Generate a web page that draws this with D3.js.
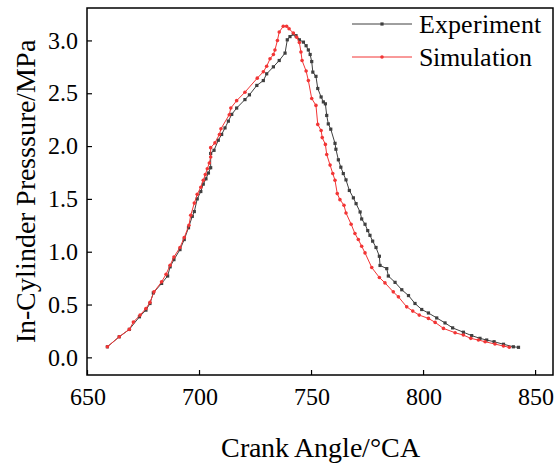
<!DOCTYPE html>
<html>
<head>
<meta charset="utf-8">
<script src="https://cdn.jsdelivr.net/npm/d3@7"></script>
<style>
  @font-face {
    font-family: "ChartSerif";
    src: local("Liberation Serif"), local("LiberationSerif"), local("LiberationSerif-Regular"), local("Times New Roman");
  }
</style>
</head>
<body style="margin:0; background:#fff">
<svg width="556" height="463"></svg>
<script>
// crank angle (deg CA) and pressure (MPa)
var expAngle = [659.1, 664.4, 668.9, 673.4, 676.3, 678.1, 679.6, 683.3, 686.0, 687.1, 688.8, 691.5, 693.4, 695.3, 697.0, 697.9,
  699.2, 700.8, 701.9, 703.1, 704.2, 705.2, 705.2, 706.7, 708.6, 710.1, 711.6, 713.1, 714.6, 716.8, 720.5, 722.5, 725.8,
  728.7, 730.2, 733.2, 735.8, 738.4, 739.4, 740.6, 742.1, 743.3, 744.8, 746.6, 747.8, 748.8, 749.6, 750.3, 750.8, 752.2,
  753.0, 754.5, 755.5, 756.4, 757.0, 757.7, 758.8, 760.7, 761.1, 762.2, 763.3, 764.4, 765.6, 767.1, 768.9, 770.1, 771.9,
  772.6, 774.1, 775.3, 776.3, 777.5, 779.0, 780.5, 780.8, 783.8, 784.5, 787.5, 790.5, 793.5, 796.4, 799.4, 802.4, 806.1,
  809.8, 813.2, 818.0, 821.7, 825.4, 828.4, 831.7, 835.9, 840.3, 842.6];
var expPressure = [0.10, 0.195, 0.265, 0.384, 0.447, 0.51, 0.61, 0.70, 0.77, 0.857, 0.925, 1.02, 1.115, 1.227, 1.335, 1.38,
  1.50, 1.57, 1.64, 1.69, 1.745, 1.795, 1.93, 1.96, 2.055, 2.11, 2.172, 2.236, 2.30, 2.36, 2.44, 2.485, 2.574,
  2.62, 2.684, 2.75, 2.81, 2.88, 3.006, 3.036, 3.06, 3.045, 3.006, 2.984, 2.95, 2.91, 2.867, 2.80, 2.70, 2.66,
  2.545, 2.465, 2.418, 2.40, 2.29, 2.21, 2.16, 2.026, 1.97, 1.87, 1.80, 1.74, 1.68, 1.58, 1.51, 1.455, 1.376,
  1.31, 1.26, 1.20, 1.155, 1.10, 1.04, 0.957, 0.87, 0.84, 0.77, 0.71, 0.64, 0.585, 0.51, 0.453, 0.42, 0.373,
  0.326, 0.279, 0.238, 0.206, 0.18, 0.164, 0.148, 0.124, 0.10, 0.095];

var simAngle = [659.1, 664.4, 668.9, 670.7, 673.7, 676.3, 678.1, 679.9, 683.3, 685.3, 687.1, 688.8, 691.5, 693.4, 695.5, 696.3,
  697.9, 699.2, 700.8, 701.9, 702.8, 703.7, 704.6, 705.2, 705.2, 707.1, 709.1, 709.8, 713.5, 714.2, 716.8, 720.5, 726.0,
  728.7, 730.2, 731.7, 733.2, 733.9, 735.0, 735.8, 737.6, 739.1, 740.2, 742.1, 743.6, 744.8, 745.5, 746.0, 747.8, 748.8,
  750.3, 752.2, 753.0, 754.5, 755.0, 756.4, 757.0, 758.5, 759.7, 760.7, 761.7, 762.9, 764.7, 765.6, 767.9, 769.6, 771.1,
  772.6, 774.1, 777.1, 780.5, 783.0, 786.7, 789.0, 792.7, 795.4, 798.3, 802.4, 805.4, 809.1, 814.3, 818.0, 821.3, 824.7,
  827.7, 832.1, 835.9, 838.5];
var simPressure = [0.10, 0.195, 0.265, 0.334, 0.40, 0.463, 0.52, 0.62, 0.715, 0.787, 0.872, 0.95, 1.04, 1.134, 1.25, 1.345,
  1.46, 1.543, 1.61, 1.676, 1.73, 1.786, 1.84, 1.896, 1.985, 2.03, 2.11, 2.164, 2.297, 2.36, 2.43, 2.51, 2.643,
  2.703, 2.756, 2.826, 2.867, 2.91, 3.0, 3.08, 3.134, 3.134, 3.11, 3.07, 3.03, 2.98, 2.89, 2.81, 2.71, 2.62,
  2.45, 2.385, 2.205, 2.148, 2.08, 2.016, 1.92, 1.82, 1.74, 1.676, 1.55, 1.493, 1.44, 1.367, 1.26, 1.172, 1.115,
  1.052, 0.989, 0.85, 0.756, 0.705, 0.62, 0.573, 0.478, 0.438, 0.40, 0.369, 0.331, 0.274, 0.233, 0.211, 0.18, 0.164,
  0.148, 0.126, 0.107, 0.095];

var xTicks = [650, 700, 750, 800, 850];
var yTicks = [0, 0.5, 1.0, 1.5, 2.0, 2.5, 3.0];

var FONT = "ChartSerif, 'Liberation Serif', 'Times New Roman', Tinos, serif";

var svg = d3.select("svg").attr("font-family", FONT);
var mLeft = 87, mTop = 8, mRight = 553, mBottom = 375;

var x = d3.scaleLinear().domain([650, 858]).range([mLeft, mRight]);
var y = d3.scaleLinear().domain([-0.167, 3.307]).range([mBottom, mTop]);

var expColor = "#3f3f3f", simColor = "#f23535";

function toPoints(xs, ys) {
  return xs.map(function (v, i) { return [v, ys[i]]; });
}
var expData = toPoints(expAngle, expPressure);
var simData = toPoints(simAngle, simPressure);

var line = d3.line()
  .x(function (d) { return x(d[0]); })
  .y(function (d) { return y(d[1]); });

function styleAxis(g) {
  g.select(".domain").remove();
  g.attr("font-family", FONT);
  g.selectAll("line").attr("stroke", "#000").attr("stroke-width", 1.2);
  g.selectAll("text").attr("font-size", 24).attr("fill", "#000").style("font-family", FONT);
}

// axes, ticks pointing inward
svg.append("g")
  .attr("transform", "translate(0," + mBottom + ")")
  .call(d3.axisBottom(x).tickValues(xTicks).tickSize(-5).tickPadding(13).tickFormat(d3.format("d")))
  .call(styleAxis);

svg.append("g")
  .attr("transform", "translate(" + mLeft + ",0)")
  .call(d3.axisLeft(y).tickValues(yTicks).tickSize(-5).tickPadding(9).tickFormat(d3.format(".1f")))
  .call(styleAxis);

// frame
svg.append("rect")
  .attr("x", mLeft).attr("y", mTop)
  .attr("width", mRight - mLeft).attr("height", mBottom - mTop)
  .attr("fill", "none").attr("stroke", "#000").attr("stroke-width", 1.5);

// series
svg.append("path").datum(expData)
  .attr("d", line).attr("fill", "none").attr("stroke", expColor).attr("stroke-width", 1);
svg.selectAll(".expPt").data(expData).enter().append("rect")
  .attr("class", "expPt")
  .attr("x", function (d) { return x(d[0]) - 1.6; })
  .attr("y", function (d) { return y(d[1]) - 1.6; })
  .attr("width", 3.2).attr("height", 3.2)
  .attr("fill", expColor);

svg.append("path").datum(simData)
  .attr("d", line).attr("fill", "none").attr("stroke", simColor).attr("stroke-width", 1);
svg.selectAll(".simPt").data(simData).enter().append("circle")
  .attr("class", "simPt")
  .attr("cx", function (d) { return x(d[0]); })
  .attr("cy", function (d) { return y(d[1]); })
  .attr("r", 1.8)
  .attr("fill", simColor);

// legend
var legend = [
  { name: "Experiment", color: expColor, shape: "square", y: 24 },
  { name: "Simulation", color: simColor, shape: "circle", y: 57 }
];
legend.forEach(function (d) {
  svg.append("line").attr("x1", 352).attr("x2", 412).attr("y1", d.y).attr("y2", d.y)
    .attr("stroke", d.color).attr("stroke-width", 1);
  if (d.shape === "square") {
    svg.append("rect").attr("x", 380.4).attr("y", d.y - 1.6).attr("width", 3.2).attr("height", 3.2).attr("fill", d.color);
  } else {
    svg.append("circle").attr("cx", 382).attr("cy", d.y).attr("r", 1.8).attr("fill", d.color);
  }
  svg.append("text").attr("x", 419).attr("y", d.y + 9).attr("font-size", 26)
    .style("font-family", FONT).text(d.name);
});

// axis titles
svg.append("text")
  .attr("x", (mLeft + mRight) / 2).attr("y", 457)
  .attr("text-anchor", "middle").attr("font-size", 28)
  .style("font-family", FONT)
  .text("Crank Angle/°CA");

svg.append("text")
  .attr("transform", "translate(35," + (mTop + mBottom) / 2 + ") rotate(-90)")
  .attr("text-anchor", "middle").attr("font-size", 28)
  .style("font-family", FONT)
  .text("In-Cylinder Presssure/MPa");
</script>
</body>
</html>
